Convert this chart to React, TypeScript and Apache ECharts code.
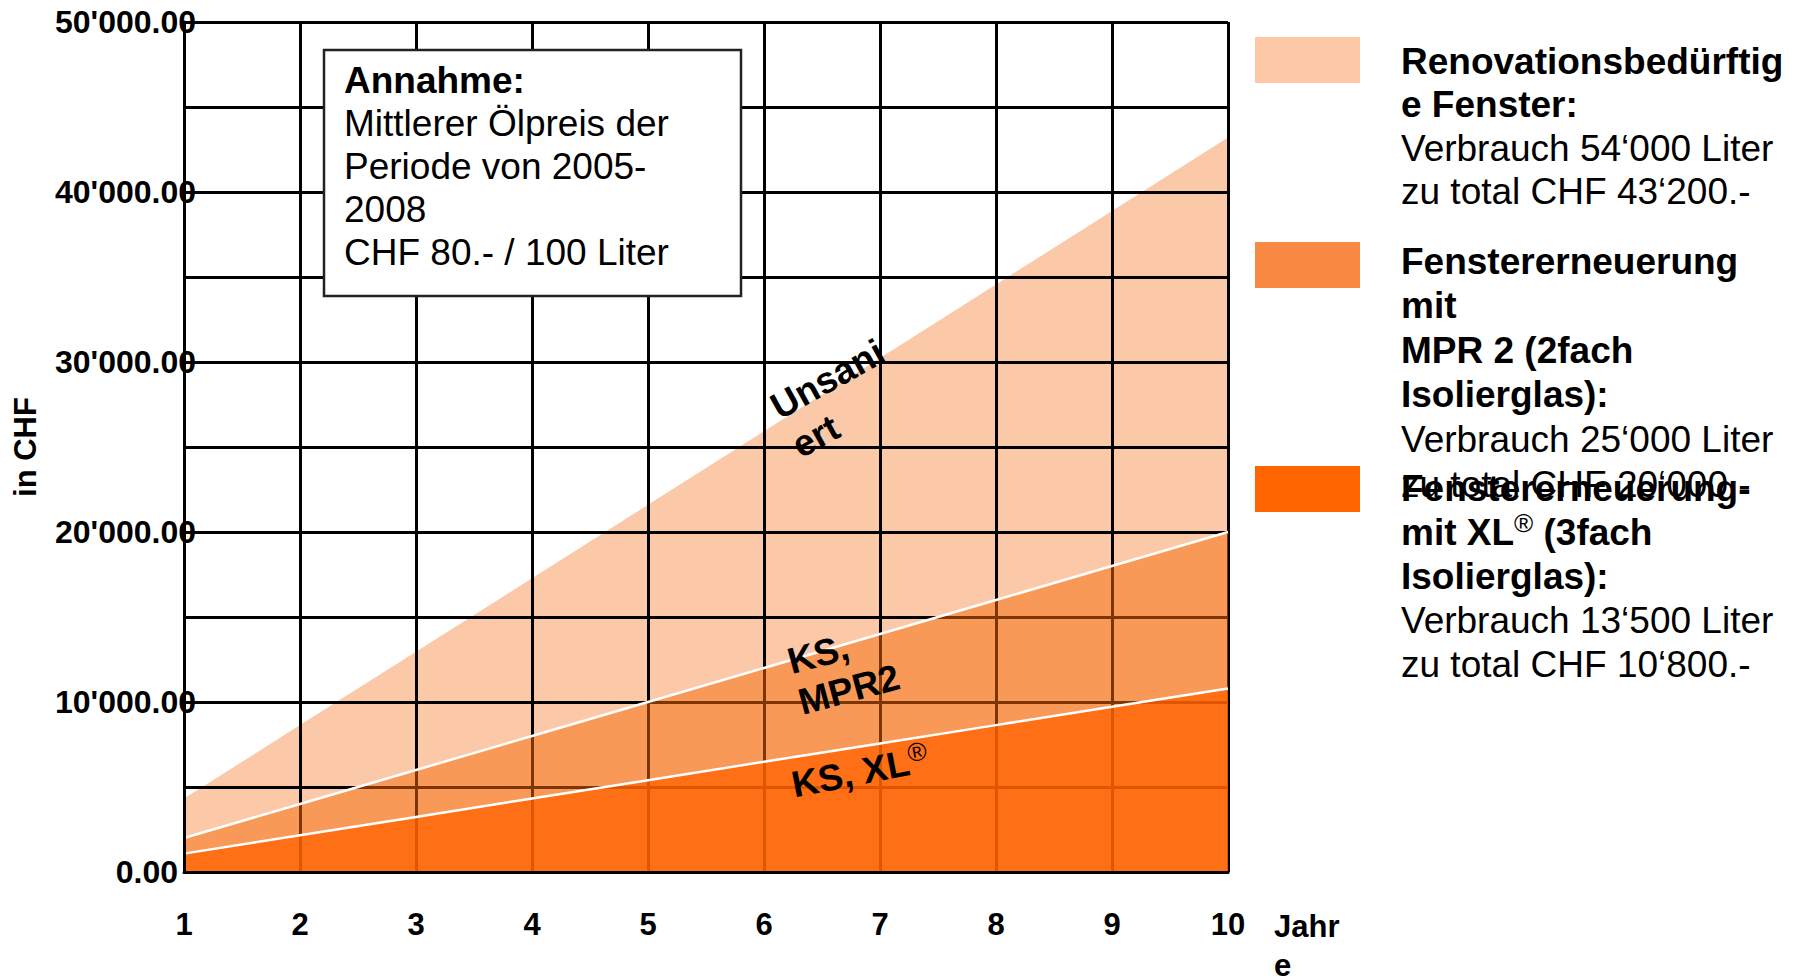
import React, { useEffect, useRef } from "react";
import * as echarts from "echarts";

const years = [1, 2, 3, 4, 5, 6, 7, 8, 9, 10];
const unsaniert = [4320, 8640, 12960, 17280, 21600, 25920, 30240, 34560, 38880, 43200];
const mpr2 = [2000, 4000, 6000, 8000, 10000, 12000, 14000, 16000, 18000, 20000];
const xl = [1080, 2160, 3240, 4320, 5400, 6480, 7560, 8640, 9720, 10800];

const yAxisName = "in CHF";
const xAxisUnit = "Jahr\ne";

const annahmeTitle = "Annahme:";
const annahmeLines = ["Mittlerer Ölpreis der", "Periode von 2005-", "2008", "CHF 80.- / 100 Liter"];

const legend1 = [
  { t: "Renovationsbedürftig", b: true },
  { t: "e Fenster:", b: true },
  { t: "Verbrauch 54‘000 Liter", b: false },
  { t: "zu total CHF 43‘200.-", b: false },
];
const legend2 = [
  { t: "Fenstererneuerung", b: true },
  { t: "mit", b: true },
  { t: "MPR 2 (2fach", b: true },
  { t: "Isolierglas):", b: true },
  { t: "Verbrauch 25‘000 Liter", b: false },
  { t: "zu total CHF 20‘000.-", b: false },
];
const legend3 = [
  { t: "Fenstererneuerung-", b: true },
  { t: "{b|mit XL}{sup|®}{b| (3fach}", b: true },
  { t: "Isolierglas):", b: true },
  { t: "Verbrauch 13‘500 Liter", b: false },
  { t: "zu total CHF 10‘800.-", b: false },
];

const FONT = '"Liberation Sans", Arial, Helvetica, sans-serif';
const C_UNS = "#fbc8a8";
const C_MPR = "#f86a06";
const C_XL = "#ff6200";

function fmt(v: number): string {
  const s = v.toFixed(2);
  const [i, d] = s.split(".");
  const ii = i.replace(/\B(?=(\d{3})+(?!\d))/g, "'");
  return ii + "." + d;
}

export default function App() {
  const ref = useRef<HTMLDivElement>(null);
  useEffect(() => {
    if (!ref.current) return;
    const chart = echarts.init(ref.current, undefined, { renderer: "svg" });
    const pairs = (arr: number[]) => years.map((y, i) => [y, arr[i]]);

    const legendText = (
      lines: { t: string; b: boolean }[],
      y0: number,
      pitch: number
    ) =>
      lines.map((l, i) => ({
        type: "text",
        z: 100,
        x: 1401,
        y: y0 + i * pitch,
        style: {
          text: l.t,
          fill: "#000",
          font: (l.b ? "bold " : "") + "37px " + FONT,
          align: "left",
          textAlign: "left",
          verticalAlign: "middle",
          textVerticalAlign: "middle",
          rich: {
            b: { fontFamily: FONT, fontWeight: "bold", fontSize: 37, fill: "#000", lineHeight: 44 },
            sup: { fontFamily: FONT, fontSize: 26, fill: "#000", lineHeight: 26, verticalAlign: "top", padding: [0, 0, 14, 0] },
          },
        },
      }));

    const option: any = {
      animation: false,
      textStyle: { fontFamily: FONT },
      grid: { left: 184, right: 577, top: 22, bottom: 107, containLabel: false, outerBoundsMode: "none" },
      xAxis: [
        {
          type: "value",
          min: 1,
          max: 10,
          interval: 1,
          z: 3,
          axisLine: { show: false },
          axisTick: { show: false },
          axisLabel: { show: false },
          splitLine: { show: true, lineStyle: { color: "#000", width: 3 } },
        },
        {
          type: "value",
          min: 1,
          max: 10,
          interval: 1,
          position: "bottom",
          z: 10,
          axisLine: { show: true, lineStyle: { color: "#000", width: 3 } },
          axisTick: { show: false },
          splitLine: { show: false },
          axisLabel: {
            show: true,
            margin: 37,
            color: "#000",
            fontWeight: "bold",
            fontSize: 31,
            fontFamily: FONT,
          },
        },
      ],
      yAxis: [
        {
          type: "value",
          min: 0,
          max: 50000,
          interval: 5000,
          z: 3,
          axisLine: { show: false },
          axisTick: { show: false },
          axisLabel: { show: false },
          splitLine: { show: true, lineStyle: { color: "#000", width: 3 } },
        },
        {
          type: "value",
          min: 0,
          max: 50000,
          interval: 5000,
          position: "left",
          z: 10,
          name: yAxisName,
          nameLocation: "middle",
          nameRotate: 90,
          nameGap: 143,
          nameTextStyle: { color: "#000", fontWeight: "bold", fontSize: 31, fontFamily: FONT },
          axisLine: { show: true, lineStyle: { color: "#000", width: 3 } },
          axisTick: { show: false },
          splitLine: { show: false },
          axisLabel: {
            show: true,
            margin: -12,
            color: "#000",
            fontWeight: "bold",
            fontSize: 32,
            fontFamily: FONT,
            formatter: (v: number) => {
              if (v % 10000 !== 0) return "";
              if (v === 0) return "{z|" + fmt(v) + "}";
              return fmt(v);
            },
            rich: {
              z: { fontWeight: "bold", fontSize: 32, fontFamily: FONT, color: "#000", padding: [0, 18, 0, 0] },
            },
          },
        },
      ],
      series: [
        {
          name: "Unsaniert",
          type: "line",
          z: 2,
          data: pairs(unsaniert),
          symbol: "none",
          lineStyle: { width: 0, opacity: 0 },
          areaStyle: { color: C_UNS, opacity: 1 },
        },
        {
          name: "KS, MPR2",
          type: "line",
          z: 4,
          data: pairs(mpr2),
          symbol: "none",
          lineStyle: { width: 2.5, color: "#fff" },
          areaStyle: { color: C_MPR, opacity: 0.5 },
        },
        {
          name: "KS, XL",
          type: "line",
          z: 5,
          data: pairs(xl),
          symbol: "none",
          lineStyle: { width: 2.5, color: "#fff" },
          areaStyle: { color: C_XL, opacity: 0.75 },
        },
      ],
      graphic: [
        {
          type: "rect",
          z: 100,
          shape: { x: 324, y: 50, width: 417, height: 246 },
          style: { fill: "#fff", stroke: "#222", lineWidth: 2.5 },
        },
        {
          type: "text",
          z: 101,
          x: 344,
          y: 80,
          style: {
            text: annahmeTitle,
            fill: "#000",
            font: "bold 37px " + FONT,
            align: "left",
            textAlign: "left",
            verticalAlign: "middle",
            textVerticalAlign: "middle",
          },
        },
        ...annahmeLines.map((t, i) => ({
          type: "text",
          z: 101,
          x: 344,
          y: 123 + i * 43,
          style: {
            text: t,
            fill: "#000",
            font: "37px " + FONT,
            align: "left",
            textAlign: "left",
            verticalAlign: "middle",
            textVerticalAlign: "middle",
          },
        })),
        {
          type: "text",
          z: 100,
          x: 1274,
          y: 907,
          style: {
            text: xAxisUnit,
            fill: "#000",
            font: "bold 31px " + FONT,
            lineHeight: 39,
            align: "left",
            textAlign: "left",
            verticalAlign: "top",
            textVerticalAlign: "top",
          },
        },
        { type: "rect", z: 100, shape: { x: 1255, y: 37, width: 105, height: 46 }, style: { fill: "#fcc8a6" } },
        { type: "rect", z: 100, shape: { x: 1255, y: 242, width: 105, height: 46 }, style: { fill: "#f98a44" } },
        { type: "rect", z: 100, shape: { x: 1255, y: 466, width: 105, height: 46 }, style: { fill: "#ff6600" } },
        ...legendText(legend1, 61, 43.5),
        ...legendText(legend2, 261, 44.6),
        ...legendText(legend3, 488, 44),
        {
          type: "text",
          z: 100,
          x: 763,
          y: 390,
          rotation: (29 * Math.PI) / 180,
          style: {
            text: "Unsani\nert",
            fill: "#000",
            font: "bold 37px " + FONT,
            lineHeight: 44,
            align: "left",
            textAlign: "left",
            verticalAlign: "top",
            textVerticalAlign: "top",
          },
        },
        {
          type: "text",
          z: 100,
          x: 783,
          y: 642,
          rotation: (15 * Math.PI) / 180,
          style: {
            text: "KS,\nMPR2",
            fill: "#000",
            font: "bold 37px " + FONT,
            lineHeight: 42,
            align: "left",
            textAlign: "left",
            verticalAlign: "top",
            textVerticalAlign: "top",
          },
        },
        {
          type: "text",
          z: 100,
          x: 860,
          y: 772,
          rotation: (11 * Math.PI) / 180,
          style: {
            text: "{b|KS, XL}{sup|®}",
            fill: "#000",
            align: "center",
            textAlign: "center",
            verticalAlign: "middle",
            textVerticalAlign: "middle",
            rich: {
              b: { fontFamily: FONT, fontWeight: "bold", fontSize: 37, fill: "#000", lineHeight: 44 },
              sup: { fontFamily: FONT, fontSize: 26, fill: "#000", lineHeight: 26, verticalAlign: "top", padding: [0, 0, 12, 0] },
            },
          },
        },
      ],
    };
    chart.setOption(option);
    return () => chart.dispose();
  }, []);
  return (
    <div
      ref={ref}
      style={{ position: "fixed", left: 0, top: 0, width: 1805, height: 979, background: "#fff" }}
    />
  );
}
